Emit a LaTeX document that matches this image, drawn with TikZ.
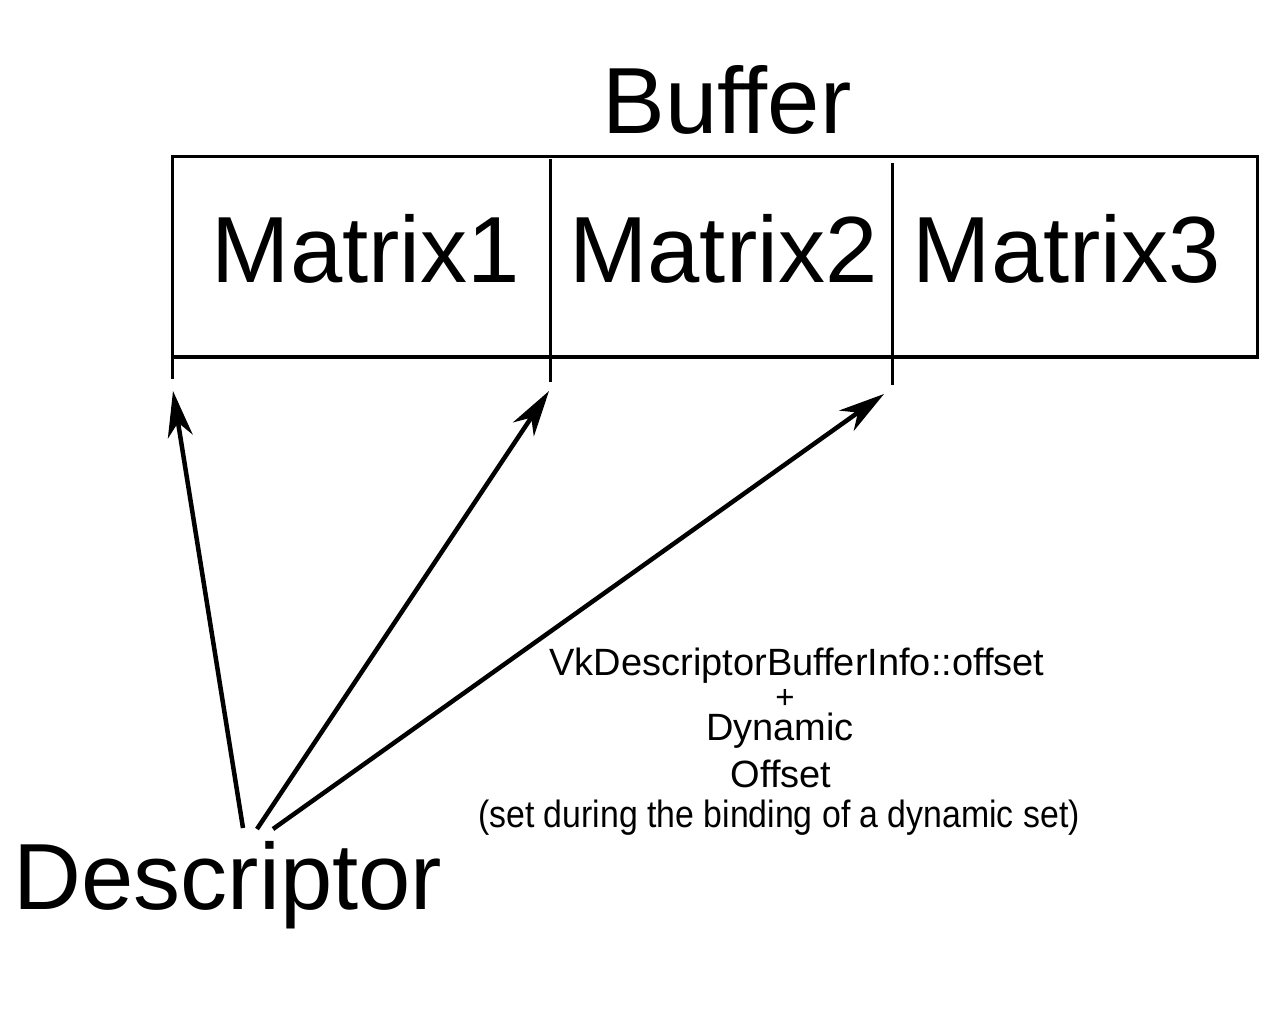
\documentclass[tikz,border=0pt]{standalone}
\usepackage{fontspec}
\setmainfont{Liberation Sans}
\usetikzlibrary{arrows.meta}
\begin{document}
\begin{tikzpicture}[x=1pt,y=-1pt,
  bigtext/.style={inner sep=0pt,anchor=base,font=\fontsize{94}{100}\selectfont},
  smalltext/.style={inner sep=0pt,anchor=base,font=\fontsize{38}{44}\selectfont},
  boxline/.style={line width=3pt},
  ptr/.style={line width=4.5pt,-{Stealth[length=46pt,width=25pt,inset=14pt]}}]
\useasboundingbox[fill=white] (0,0) rectangle (1280,1024);
% buffer outline
\coordinate (tl) at (172,157);
\coordinate (br) at (1257,357);
\draw[boxline] (tl) rectangle (br);
% dividers and ticks
\coordinate (d1t) at (550,159); \coordinate (d1b) at (550,382);
\coordinate (d2t) at (892,163); \coordinate (d2b) at (892,385);
\coordinate (d0t) at (172,357); \coordinate (d0b) at (172,379);
\draw[boxline] (d1t) -- (d1b);
\draw[boxline] (d2t) -- (d2b);
\draw[boxline] (d0t) -- (d0b);
% texts
\node[bigtext] (buffer) at (727,134) {Buffer};
\node[bigtext] (m1) at (366,283) {Matrix1};
\node[bigtext] (m2) at (723.5,283) {Matrix2};
\node[bigtext] (m3) at (1067,283) {Matrix3};
\node[bigtext] (desc) at (228,909) {Descriptor};
\node[smalltext] (l1) at (797,675) {VkDescriptorBufferInfo::offset};
\node[smalltext,font=\fontsize{33}{40}\selectfont,text height=18pt,text depth=0pt] (l2) at (785,708) {+};
\node[smalltext] (l3) at (780,740) {Dynamic};
\node[smalltext] (l4) at (781,787) {Offset};
\node[smalltext] (l5) at (779,827) {\scalebox{0.89}[1]{(set during the binding of a dynamic set)}};
% arrows
\coordinate (s1) at (243,828); \coordinate (t1) at (173,391);
\coordinate (s2) at (257,829); \coordinate (t2) at (549,391);
\coordinate (s3) at (273,829); \coordinate (t3) at (884,394);
\draw[ptr] (s1) -- (t1);
\draw[ptr] (s2) -- (t2);
\draw[ptr] (s3) -- (t3);
\end{tikzpicture}
\end{document}
